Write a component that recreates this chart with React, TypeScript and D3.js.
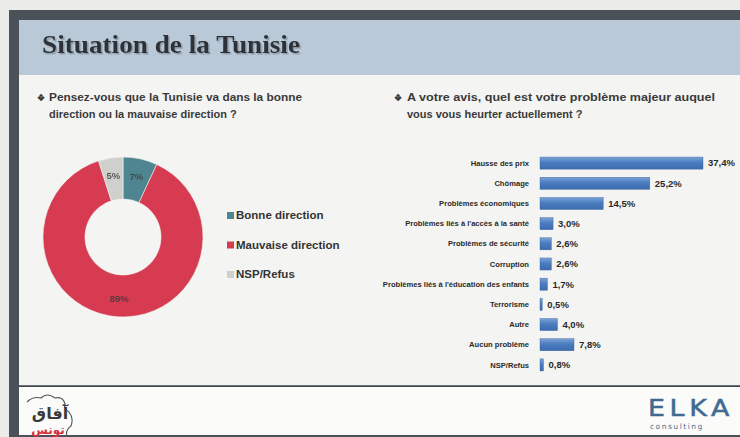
import * as d3 from 'd3';

const directionLabels = ['Bonne direction', 'Mauvaise direction', 'NSP/Refus'];
const directionValues = [7, 89, 5];
const directionColors = ['#4e8591', '#d63b52', '#cfd0cc'];

const problemLabels = [
  'Hausse des prix',
  'Chômage',
  'Problèmes économiques',
  "Problèmes liés à l'accès à la santé",
  'Problèmes de sécurité',
  'Corruption',
  "Problèmes liés à l'éducation des enfants",
  'Terrorisme',
  'Autre',
  'Aucun problème',
  'NSP/Refus',
];
const problemValues = [37.4, 25.2, 14.5, 3.0, 2.6, 2.6, 1.7, 0.5, 4.0, 7.8, 0.8];

const W = 740;
const H = 437;
const sans = "'Liberation Sans', Arial, sans-serif";

const fmt = (v: number) => v.toFixed(1).replace('.', ',') + '%';

export default function App() {
  // donut
  const cx = 123;
  const cy = 237;
  const pie = d3.pie<number>().sort(null).value((d) => d)(directionValues);
  const arc = d3.arc<d3.PieArcDatum<number>>().innerRadius(38).outerRadius(80);
  const labelArc = d3.arc<d3.PieArcDatum<number>>().innerRadius(62).outerRadius(62);

  // bars
  const y = d3.scaleBand<string>().domain(problemLabels).range([153, 375]).paddingInner(0.4).paddingOuter(0.2);
  const x = d3.scaleLinear().domain([0, 37.4]).range([540, 703]);

  return (
    <div style={{ position: 'absolute', left: 0, top: 0 }}>
      <svg width={W} height={H} style={{ display: 'block' }}>
        <defs>
          <linearGradient id="bar" x1="0" y1="0" x2="0" y2="1">
            <stop offset="0" stopColor="#7ea3d6" />
            <stop offset="0.45" stopColor="#4a7cc0" />
            <stop offset="1" stopColor="#3d6cae" />
          </linearGradient>
          <filter id="shadow" x="-5%" y="-20%" width="110%" height="150%">
            <feDropShadow dx="1.5" dy="1.5" stdDeviation="0.6" floodColor="#8a97a3" floodOpacity="0.9" />
          </filter>
        </defs>

        {/* paper + frame */}
        <rect x={0} y={0} width={W} height={H} fill="#ebebea" />
        <rect x={9} y={10} width={W - 9} height={H - 10} fill="#4a5158" />
        <rect x={19} y={20} width={W - 19} height={366} fill="#f4f4f2" />
        <rect x={19} y={20} width={W - 19} height={55} fill="#b9c9d7" />
        <rect x={19} y={387} width={W - 19} height={48} fill="#fbfbfa" />

        <text x={42} y={53} fontFamily="'Liberation Serif', serif" fontWeight="bold" fontSize={26} fill="#2e3338" filter="url(#shadow)" textLength={258} lengthAdjust="spacingAndGlyphs">
          Situation de la Tunisie
        </text>

        {/* questions */}
        <g fontFamily={sans} fontWeight="bold" fontSize={11} fill="#3a3a3a">
          <text x={37} y={101} fontSize={9}>❖</text>
          <text x={49} y={101} textLength={253} lengthAdjust="spacingAndGlyphs">Pensez-vous que la Tunisie va dans la bonne</text>
          <text x={49} y={118}>direction ou la mauvaise direction ?</text>
          <text x={394} y={101} fontSize={9}>❖</text>
          <text x={407} y={101} textLength={308} lengthAdjust="spacingAndGlyphs">A votre avis, quel est votre problème majeur auquel</text>
          <text x={407} y={118}>vous vous heurter actuellement ?</text>
        </g>

        {/* donut */}
        <g transform={`translate(${cx},${cy})`}>
          {pie.map((d, i) => (
            <path key={i} d={arc(d) || ''} fill={directionColors[i]} stroke="#f4f4f2" strokeWidth={0.6} />
          ))}
          {pie.map((d, i) => {
            const [lx, ly] = labelArc.centroid(d);
            return (
              <text key={i} x={lx} y={ly} textAnchor="middle" dy="0.35em" fontFamily={sans} fontWeight="bold" fontSize={9.5} fill="#3b3b3b" opacity={0.8}>
                {d.data}%
              </text>
            );
          })}
        </g>

        {/* legend */}
        <g fontFamily={sans} fontWeight="bold" fontSize={11.5} fill="#333">
          {directionLabels.map((l, i) => (
            <g key={l} transform={`translate(227,${219 + i * 29.5})`}>
              <rect x={0} y={-7} width={7} height={7} fill={directionColors[i]} />
              <text x={9} y={0}>{l}</text>
            </g>
          ))}
        </g>

        {/* bars */}
        <g fontFamily={sans} fontWeight="bold">
          {problemLabels.map((l, i) => {
            const by = y(l) || 0;
            const bh = y.bandwidth();
            return (
              <g key={l}>
                <text x={529} y={by + bh / 2} dy="0.35em" textAnchor="end" fontSize={7.6} fill="#2a2a2a">{l}</text>
                <rect x={x(0)} y={by} width={Math.max(1.5, x(problemValues[i]) - x(0))} height={bh} fill="url(#bar)" stroke="#3b66a3" strokeWidth={0.4} />
                <text x={x(problemValues[i]) + 5} y={by + bh / 2} dy="0.35em" fontSize={9.5} fill="#2a2a2a">{fmt(problemValues[i])}</text>
              </g>
            );
          })}
        </g>

        {/* footer */}
        <line x1={19} x2={W} y1={386} y2={386} stroke="#3e454c" strokeWidth={1.5} />
        <path d="M27,402 q6,-6 14,-4 q6,-6 14,0 q8,-2 10,6 q-2,4 4,8 q5,6 2,14 q-6,4 -4,12" fill="none" stroke="#555" strokeWidth={1.1} />
        <text x={50} y={419} textAnchor="middle" fontFamily="'DejaVu Sans', sans-serif" fontWeight="bold" fontSize={16} fill="#3a3a3a">آفاق</text>
        <text x={48} y={434} textAnchor="middle" fontFamily="'DejaVu Sans', sans-serif" fontWeight="bold" fontSize={12} fill="#d8303e">تونس</text>
        <text x={648} y={416} fontFamily="'DejaVu Sans', sans-serif" fontSize={23} letterSpacing={4} fill="#3f6b92" stroke="#3f6b92" strokeWidth={0.5} textLength={86} lengthAdjust="spacingAndGlyphs">ELKA</text>
        <text x={650} y={429} fontFamily="'DejaVu Sans', sans-serif" fontSize={7.5} letterSpacing={1.5} fill="#4d6f8c">consulting</text>
      </svg>
    </div>
  );
}
